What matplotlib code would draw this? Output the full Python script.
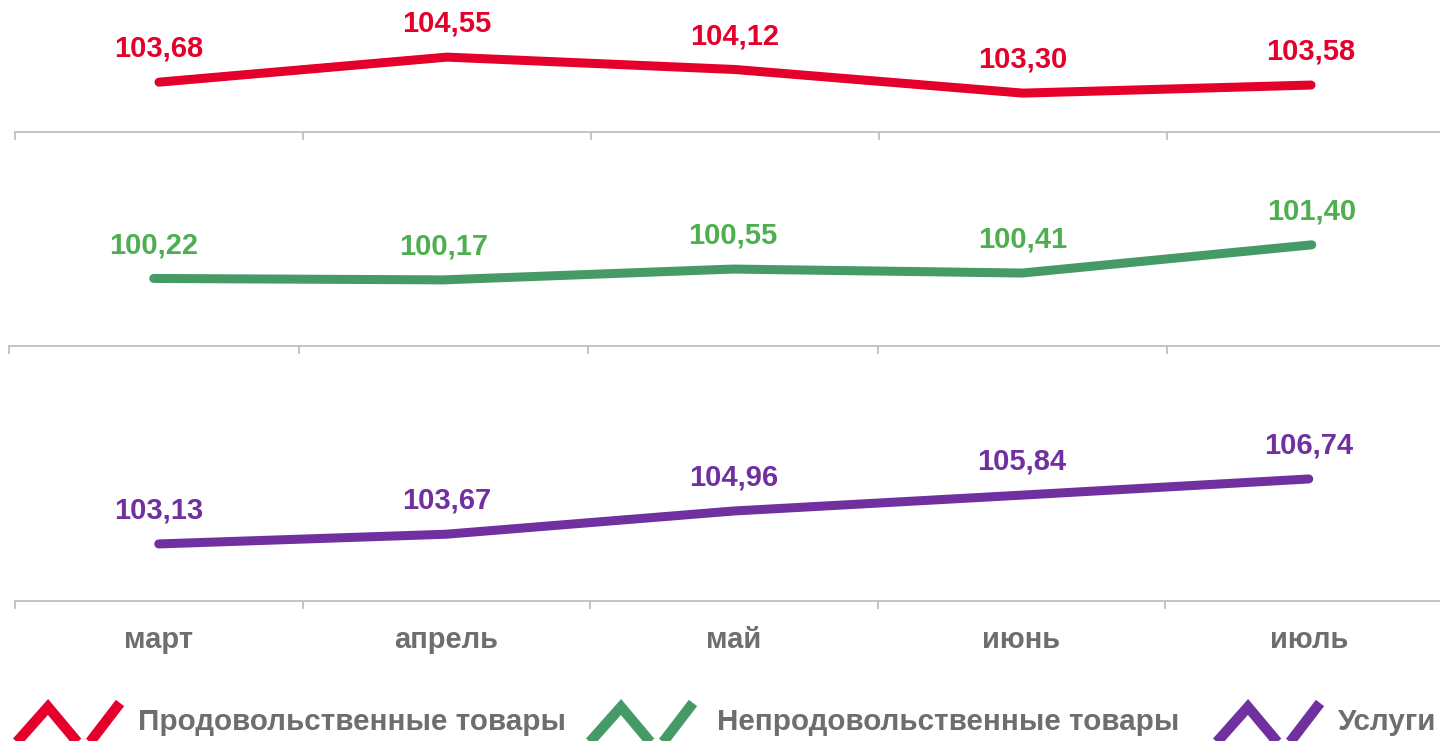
import matplotlib.pyplot as plt
from matplotlib.lines import Line2D

plt.rcParams['font.family'] = ['Liberation Sans', 'DejaVu Sans']

months = ["март", "апрель", "май", "июнь", "июль"]
food = [103.68, 104.55, 104.12, 103.30, 103.58]
nonfood = [100.22, 100.17, 100.55, 100.41, 101.40]
services = [103.13, 103.67, 104.96, 105.84, 106.74]
series_names = ["Продовольственные товары", "Непродовольственные товары", "Услуги"]

RED = "#E4002B"
GREEN_LINE = "#459A66"
GREEN_TEXT = "#4DAF4F"
PURPLE = "#7030A0"
GRAY = "#6E6E6E"
AXIS = "#BFBFBF"

W, H = 1440, 741
fig = plt.figure(figsize=(W / 100, H / 100), dpi=100)


def px_axes(x0, y_top, width, y_bottom):
    # axes placed by pixel box (y measured from top of image)
    return fig.add_axes([x0 / W, (H - y_bottom) / H, width / W, (y_bottom - y_top) / H])


def panel(ax, values, line_color, text_color, ylim, show_labels=False):
    x = range(len(values))
    ax.plot(x, values, color=line_color, lw=6.5, solid_capstyle="round")
    for i, v in zip(x, values):
        ax.annotate(f"{v:.2f}".replace(".", ","), (i, v), xytext=(0, 24),
                    textcoords="offset points", ha="center", va="center",
                    fontsize=21, fontweight="bold", color=text_color)
    ax.set_xlim(-0.5, len(values) - 0.5)
    ax.set_ylim(*ylim)
    ax.set_facecolor("none")
    for s in ["top", "left", "right"]:
        ax.spines[s].set_visible(False)
    ax.spines["bottom"].set_color(AXIS)
    ax.spines["bottom"].set_linewidth(1.3)
    ax.set_yticks([])
    ax.set_xticks(range(len(values)))
    ax.set_xticks([i - 0.5 for i in range(len(values) + 1)], minor=True)
    ax.tick_params(axis="x", which="major", length=0, pad=18)
    ax.tick_params(axis="x", which="minor", length=6, width=1.3, color=AXIS)
    if show_labels:
        ax.set_xticklabels(months, fontsize=21, fontweight="bold", color=GRAY)
    else:
        ax.set_xticklabels([])


ax1 = px_axes(15, 0, 1440, 132)
panel(ax1, food, RED, RED, (101.95, 101.95 + 132 / 28.8))

ax2 = px_axes(9, 150, 1447.5, 346)
panel(ax2, nonfood, GREEN_LINE, GREEN_TEXT, (97.85, 97.85 + 196 / 28.5))

ax3 = px_axes(15, 380, 1437.5, 601)
panel(ax3, services, PURPLE, PURPLE, (99.96, 99.96 + 221 / 18.0), show_labels=True)

# legend with zigzag markers drawn in figure pixels
legend_items = [(0, RED), (573, GREEN_LINE), (1200, PURPLE)]
text_x = [138, 717, 1338]
for (x0, color), tx, name in zip(legend_items, text_x, series_names):
    zx = [x0 + 8, x0 + 48, x0 + 84, x0 + 120]
    zy = [752, 707, 750, 703]
    fig.add_artist(Line2D([v / W for v in zx], [(H - v) / H for v in zy],
                          color=color, lw=7.5, solid_capstyle="butt",
                          solid_joinstyle="miter", transform=fig.transFigure))
    fig.text(tx / W, (H - 722) / H, name, ha="left", va="center",
             fontsize=21.3, fontweight="bold", color=GRAY)

fig.savefig("out.png", dpi=100)
